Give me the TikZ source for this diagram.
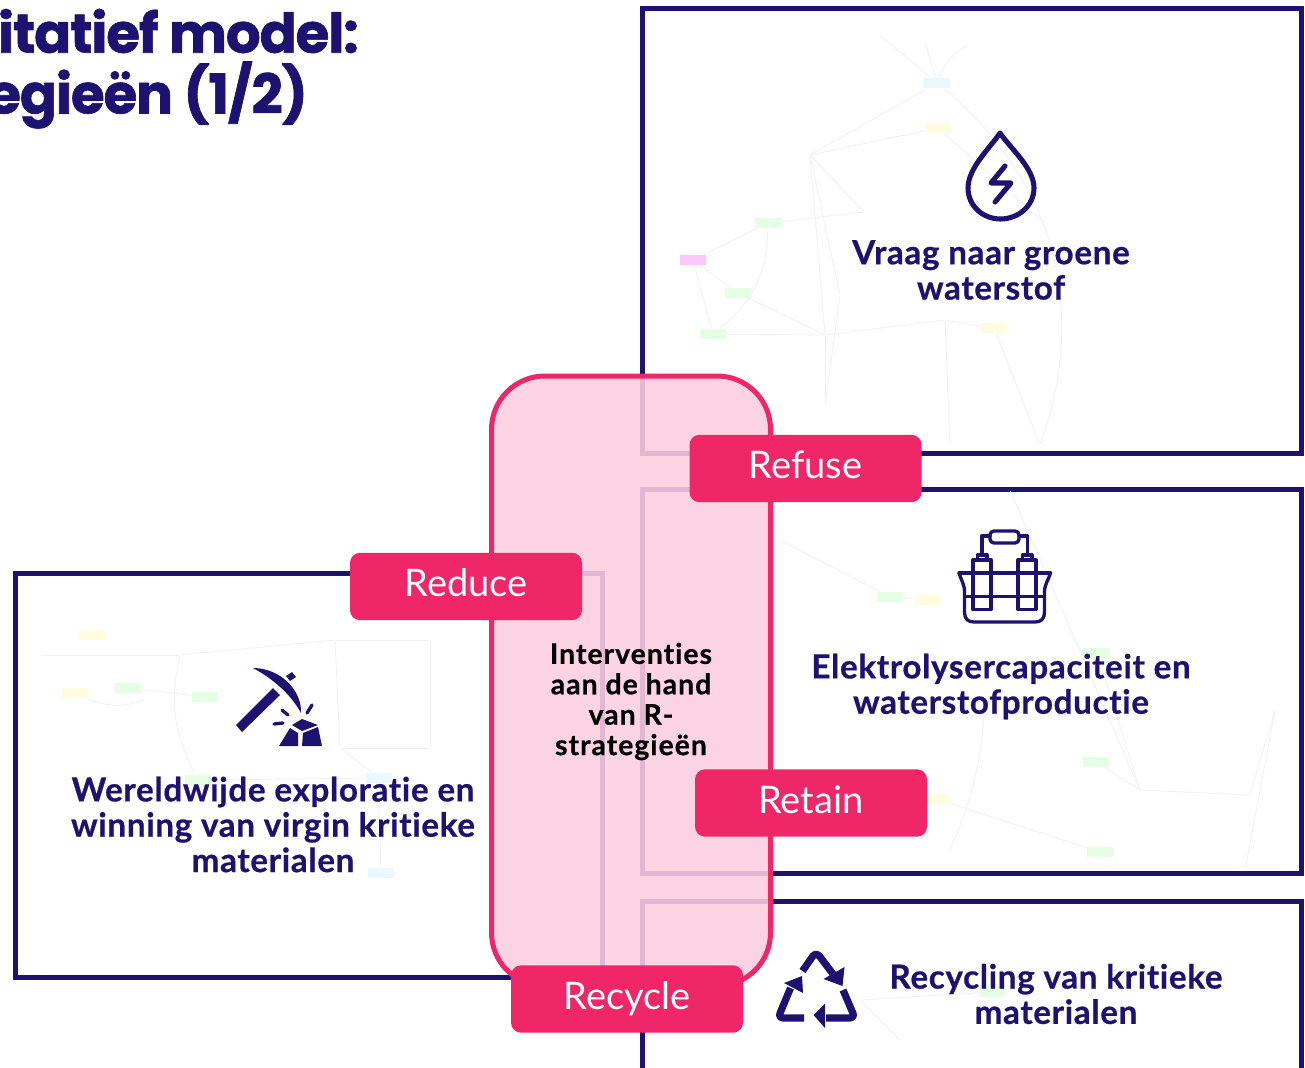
\documentclass[tikz,border=0pt]{standalone}
\usepackage{fontspec}
\setmainfont{Lato}[Ligatures=NoCommon,BoldFeatures={FakeBold=.6}]
\newfontfamily\titlefont{Poppins}[LetterSpace=-2,BoldFeatures={FakeBold=1.2}]
\definecolor{navy}{HTML}{1E1270}
\definecolor{roze}{HTML}{EF2769}
\definecolor{rozelicht}{HTML}{FCCEDF}
\definecolor{spoor}{HTML}{F0F0FB}
\tikzset{
  panel/.style={draw=navy,line width=3.75pt,fill=white},
  overlay/.style={draw=roze,line width=3.75pt,fill=rozelicht,fill opacity=.88,rounded corners=40pt},
  rlabel/.style={fill=roze,rounded corners=7.5pt,minimum width=174pt,minimum height=50.5pt,inner sep=0pt,
    text=white,text height=20pt,text depth=5pt,font=\fontsize{28.5}{28.5}\selectfont},
  caption/.style={text=navy,align=center,inner sep=0pt,
    font=\addfontfeatures{LetterSpace=2}\bfseries\fontsize{24.9}{26.5}\selectfont},
  midtext/.style={text=black,align=center,inner sep=0pt,
    font=\addfontfeatures{LetterSpace=3.5}\bfseries\fontsize{21.3}{22.8}\selectfont},
  heading/.style={text=navy,anchor=east,inner sep=0pt,font=\titlefont\bfseries\fontsize{41}{41}\selectfont},
  icon/.style={draw=navy,line width=3.8pt,line cap=round,line join=round},
  iconthin/.style={draw=navy,line width=2.5pt,line cap=round,line join=round},
  iconfill/.style={fill=navy,draw=none},
  gbox/.style={inner sep=0pt,minimum width=20pt,minimum height=8pt},
  ggreen/.style={gbox,fill=green!10},
  gyellow/.style={gbox,fill=yellow!12},
  gcyan/.style={gbox,fill=cyan!8},
  gpink/.style={gbox,fill=violet!12!magenta!22!white},
  gdot/.style={inner sep=0pt,minimum size=1pt},
  glink/.style={draw=spoor,line width=.6pt}
}
\begin{document}
\begin{tikzpicture}[x=.75pt,y=-.75pt]
    \useasboundingbox (0,0) rectangle (1305,1067);
    \draw[panel] (642.5,8.5) rectangle (1301.5,453);
    \draw[panel] (642.5,489.5) rectangle (1301.5,873.5);
    \draw[panel] (642.5,901.5) rectangle (1301.5,1100);
    \draw[panel] (15.5,573.5) rectangle (602,977);
    \draw
      (937,83) node[gcyan] (cyanA){}
      (938,128) node[gyellow] (yellowA){}
      (693,260) node[gpink] (pinkA){}
      (768,223) node[ggreen] (greenA){}
      (738,293) node[ggreen] (greenB){}
      (713,334) node[ggreen] (greenC){}
      (994,328) node[gyellow] (yellowB){}
      (810,155) node[gdot] (midA){}
      (864,212) node[gdot] (midB){}
      (825,335) node[gdot] (midC){}
      (825,405) node[gdot] (midD){}
      (945,320) node[gdot] (midE){}
      (1047,225) node[gdot] (midF){}
      (840,295) node[gdot] (midJ){}
      (1040,445) node[gdot] (midK){}
      (950,445) node[gdot] (midL){}
      (880,35) node[gdot] (topA){}
      (925,42) node[gdot] (topB){}
      (968,45) node[gdot] (topC){}
      (92,635) node[gyellow] (yellowC){}
      (75,693) node[gyellow] (yellowD){}
      (128,688) node[ggreen] (greenD){}
      (205,697) node[ggreen] (greenE){}
      (198,780) node[ggreen] (greenF){}
      (379,778) node[gcyan] (cyanB){}
      (381,873) node[gcyan] (cyanC){}
      (40,655) node[gdot] (leftA){}
      (180,655) node[gdot] (leftB){}
      (335,640) node[gdot] (leftC){}
      (430,640) node[gdot] (leftD){}
      (430,748) node[gdot] (leftE){}
      (340,748) node[gdot] (leftF){}
      (145,700) node[gdot] (leftG){}
      (890,597) node[ggreen] (greenG){}
      (928,600) node[gyellow] (yellowE){}
      (1097,653) node[ggreen] (greenH){}
      (1096,762) node[ggreen] (greenI){}
      (1100,852) node[ggreen] (greenJ){}
      (937,799) node[gyellow] (yellowF){}
      (992,992) node[ggreen] (greenK){}
      (1250,795) node[gdot] (midG){}
      (1140,790) node[gdot] (midH){}
      (1275,710) node[gdot] (midI){}
      (780,540) node[gdot] (rightA){}
      (1010,490) node[gdot] (rightB){}
      (1245,870) node[gdot] (rightC){}
      (950,850) node[gdot] (rightD){}
      (985,700) node[gdot] (rightE){}
      (900,1040) node[gdot] (lowA){}
      (860,1000) node[gdot] (lowB){};
    \begin{scope}[glink]
      \draw (topA) to (cyanA);
      \draw (topB) to (cyanA);
      \draw (topC) to[bend right=20] (cyanA);
      \draw (cyanA) to (midA);
      \draw (yellowA) to (midA);
      \draw (midA) to (midB);
      \draw (midA) to (midC);
      \draw (midA) to (midJ);
      \draw (pinkA) to (greenA);
      \draw (pinkA) to (greenB);
      \draw (pinkA) to (greenC);
      \draw (greenA) to (midB);
      \draw (greenB) to (midC);
      \draw (greenC) to (midC);
      \draw (greenA) to[bend left=25] (greenC);
      \draw (midC) to (midD);
      \draw (midC) to (midE);
      \draw (midJ) to (midD);
      \draw (yellowB) to (midE);
      \draw (yellowB) to (midK);
      \draw (midE) to (midL);
      \draw (yellowA) to (midF);
      \draw (cyanA) to[bend left=35] (midK);
      \draw (greenG) to (yellowE);
      \draw (rightA) to (greenG);
      \draw (rightB) to (midH);
      \draw (greenH) to (midH);
      \draw (greenI) to (midH);
      \draw (midH) to (midG);
      \draw (midG) to (midI);
      \draw (midI) to (rightC);
      \draw (yellowF) to (greenJ);
      \draw (rightE) to[bend left=10] (rightD);
      \draw (greenK) to (lowB);
      \draw (lowA) to (lowB);
      \draw (leftA) to (leftB);
      \draw (leftB) to (leftC);
      \draw (leftC) to (leftD);
      \draw (leftD) to (leftE);
      \draw (leftE) to (leftF);
      \draw (leftC) to (leftF);
      \draw (yellowD) to[bend right=20] (leftG);
      \draw (greenD) to (greenE);
      \draw (leftB) to[bend right=20] (greenF);
      \draw (cyanB) to (greenF);
      \draw (cyanB) to (leftF);
      \draw (cyanC) to (cyanB);
    \end{scope}
    \draw[overlay] (491.5,376) rectangle (770.5,986);
    \draw
      (805.5,468.5) node[rlabel] (refuse){Refuse}
      (466,586.5) node[rlabel] (reduce){Reduce}
      (811,803) node[rlabel] (retain){Retain}
      (627,999) node[rlabel] (recycle){Recycle};
    \draw
      (631,701.5) node[midtext] (interv){Interventies\\aan de hand\\van R-\\strategieën}
      (991,270) node[caption] (vraag){Vraag naar groene\\waterstof}
      (1001,686.5) node[caption] (elektro){Elektrolysercapaciteit en\\waterstofproductie}
      (273,824.5) node[caption] (winning){Wereldwijde exploratie en\\winning van virgin kritieke\\materialen}
      (1056,994) node[caption] (recycling){Recycling van kritieke\\materialen}
      (359,31) node[heading] (titleA){itatief model:}
      (308,95) node[heading] (titleB){egieën (1/2)};
    \draw[icon] (1000,133) .. controls (990,148) and (968,168) .. (968,188)
      .. controls (968,206) and (983,219) .. (1000.5,219)
      .. controls (1018,219) and (1034,206) .. (1034,188)
      .. controls (1034,168) and (1010,148) .. (1000,133) -- cycle;
    \draw[icon] (1005,166) -- (991,183) -- (1011,183) -- (995,202);
    \fill[iconfill] (253,668) .. controls (280,668) and (302,690) .. (301,713)
      .. controls (291,695) and (275,680) .. (253,668) -- cycle;
    \fill[iconfill] (286,676) -- (292,672) -- (296,677) -- (290,681) -- cycle;
    \fill[iconfill] (273,688) -- (280,695) -- (242,732) -- (236,725) -- cycle;
    \fill[iconfill] (302,719) -- (318,725) -- (302,731) -- (292,725) -- cycle;
    \fill[iconfill] (290,728) -- (298,733) -- (298,746) -- (279,746) -- cycle;
    \fill[iconfill] (303,733) -- (318,727) -- (322,746) -- (302,746) -- cycle;
    \draw[iconthin] (282,710) -- (288,715);
    \draw[iconthin] (274,724) -- (283,723);
    \draw[iconthin] (312,705) -- (307,713);
    \draw[iconthin] (959,573) -- (1050.5,573);
    \draw[iconthin] (959,573) .. controls (961,580) and (964.5,584) .. (964.5,592) -- (964.5,612)
      .. controls (964.5,619) and (968,622) .. (974,622) -- (1035,622)
      .. controls (1041,622) and (1044.5,619) .. (1044.5,612) -- (1044.5,592)
      .. controls (1044.5,584) and (1048.5,580) .. (1050.5,573);
    \draw[iconthin] (965,596.5) -- (1044.5,596.5);
    \draw[iconthin] (973,560) rectangle (991,609.5);
    \draw[iconthin] (1018,560) rectangle (1036,609.5);
    \draw[iconthin] (977.5,560) -- (977.5,555) -- (987,555) -- (987,560);
    \draw[iconthin] (1022.5,560) -- (1022.5,555) -- (1032,555) -- (1032,560);
    \draw[iconthin,rounded corners=3pt] (990,531) rectangle (1019,543);
    \draw[iconthin] (982,555) -- (982,536) -- (990,536);
    \draw[iconthin] (1019,536) -- (1027.5,536) -- (1027.5,555);
    \draw[icon,line width=5.4pt,line cap=butt,rounded corners=4pt] (802.5,971) -- (816,951.5) -- (833,974);
    \fill[iconfill] (844.5,967) -- (842.5,986) -- (823.5,979) -- cycle;
    \draw[icon,line width=5.4pt,line cap=butt,rounded corners=4pt] (843,990) -- (855,1018) -- (826,1018);
    \fill[iconfill] (813.5,1015) -- (825,1003.5) -- (825,1028) -- cycle;
    \draw[icon,line width=5.4pt,line cap=butt,rounded corners=4pt] (804,1018) -- (778,1018) -- (790.5,988);
    \fill[iconfill] (802,976) -- (803,993) -- (784,983) -- cycle;
\end{tikzpicture}
\end{document}
